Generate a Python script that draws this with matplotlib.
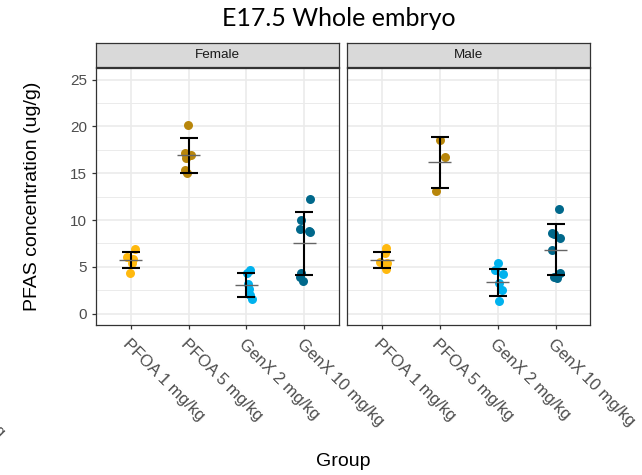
import matplotlib.pyplot as plt
import numpy as np

# E17.5 whole embryo PFAS concentrations
groups = ['PFOA 1 mg/kg', 'PFOA 5 mg/kg', 'GenX 2 mg/kg', 'GenX 10 mg/kg']
colors = ['#FFB90F', '#B8860B', '#00B2EE', '#00688B']

female_vals = [[6.9, 6.1, 5.8, 5.4, 4.4],
               [20.2, 17.2, 16.9, 16.6, 15.3, 15.0],
               [4.7, 4.3, 3.2, 2.6, 2.0, 1.6],
               [12.3, 10.0, 9.1, 8.8, 8.7, 4.4, 3.9, 3.5]]
male_vals = [[7.0, 6.5, 5.5, 5.4, 4.8],
             [18.5, 16.7, 13.1],
             [5.4, 4.7, 4.2, 3.3, 2.5, 1.4],
             [11.2, 8.6, 8.5, 8.1, 6.8, 4.3, 3.9, 3.8]]

female_mean = [5.75, 16.9, 3.05, 7.5]
female_sd = [0.82, 1.9, 1.27, 3.35]
male_mean = [5.75, 16.15, 3.38, 6.85]
male_sd = [0.82, 2.75, 1.45, 2.72]

# horizontal jitter (category units) as seen in the picture
female_jit = [[0.08, -0.06, 0.04, 0.03, -0.01],
              [-0.01, -0.06, 0.04, -0.04, -0.06, -0.02],
              [0.06, 0.01, 0.03, 0.05, 0.07, 0.09],
              [0.10, -0.06, -0.07, 0.09, 0.10, -0.06, -0.07, -0.03]]
male_jit = [[0.07, 0.06, -0.03, 0.08, 0.07],
            [0.0, 0.08, -0.06],
            [0.0, -0.04, 0.09, 0.03, 0.07, 0.02],
            [0.06, -0.07, -0.02, 0.07, -0.06, 0.07, -0.02, 0.02]]

W, H = 642, 475
fig = plt.figure(figsize=(W / 100, H / 100), dpi=100)
plt.rcParams['font.family'] = ['Liberation Sans', 'DejaVu Sans']

panels = [('Female', 96, female_vals, female_mean, female_sd, female_jit),
          ('Male', 347.3, male_vals, male_mean, male_sd, male_jit)]
top, bottom, pw = 68.3, 325, 243

for i, (name, left, vals, mean, sd, jit) in enumerate(panels):
    ax = fig.add_axes([left / W, 1 - bottom / H, pw / W, (bottom - top) / H])
    ax.set_xlim(0.4, 4.6)
    ax.set_ylim(-1.2, 26.2)
    ax.set_yticks(np.arange(0, 26, 5))
    ax.set_yticks(np.arange(2.5, 25, 5), minor=True)
    ax.set_xticks(np.arange(1, 5))
    ax.grid(True, which='major', color='#EBEBEB', lw=1.2)
    ax.grid(True, which='minor', axis='y', color='#EBEBEB', lw=0.7)
    ax.set_axisbelow(True)
    for s in ax.spines.values():
        s.set_color('#333333')
        s.set_linewidth(0.9)

    for k in range(4):
        x = k + 1
        ax.scatter(x + np.array(jit[k]), vals[k], s=42, color=colors[k],
                   zorder=3, linewidths=0)
        ax.errorbar(x, mean[k], yerr=sd[k], fmt='none', ecolor='black',
                    elinewidth=1.5, capsize=6.5, capthick=1.5, zorder=4)
        ax.hlines(mean[k], x - 0.2, x + 0.2, color='#666666', lw=1.0, zorder=4)

    ax.tick_params(axis='both', which='major', length=3, color='#333333',
                   labelsize=11, labelcolor='#4D4D4D', width=0.9)
    ax.tick_params(axis='x', pad=5)
    ax.tick_params(axis='y', which='minor', length=0)
    ax.set_xticklabels(groups, rotation=-45, ha='left', va='top',
                       rotation_mode='anchor', fontsize=12)
    if i == 1:
        ax.tick_params(axis='y', length=0, labelleft=False)

    st = fig.add_axes([left / W, 1 - 67.3 / H, pw / W, 24 / H])
    st.set_facecolor('#D9D9D9')
    st.set_xticks([])
    st.set_yticks([])
    for s in st.spines.values():
        s.set_color('#333333')
        s.set_linewidth(0.9)
    st.text(0.5, 0.5, name, ha='center', va='center', fontsize=9.7,
            color='#1A1A1A', transform=st.transAxes)

fig.text(339 / W, 1 - 18 / H, 'E17.5 Whole embryo', ha='center', va='center',
         fontsize=18, family='Lato')
fig.text(33 / W, 1 - 196 / H, 'PFAS concentration (ug/g)', rotation=90,
         ha='center', va='center', fontsize=14)
fig.text(343 / W, 1 - 462 / H, 'Group', ha='center', va='center', fontsize=14)
# clipped fragment of a label at the left edge
fig.text(-8 / W, 1 - 414 / H, 'mg', rotation=-45, ha='left', va='top',
         rotation_mode='anchor', fontsize=12, color='#4D4D4D')

fig.savefig('out.png', dpi=100)
